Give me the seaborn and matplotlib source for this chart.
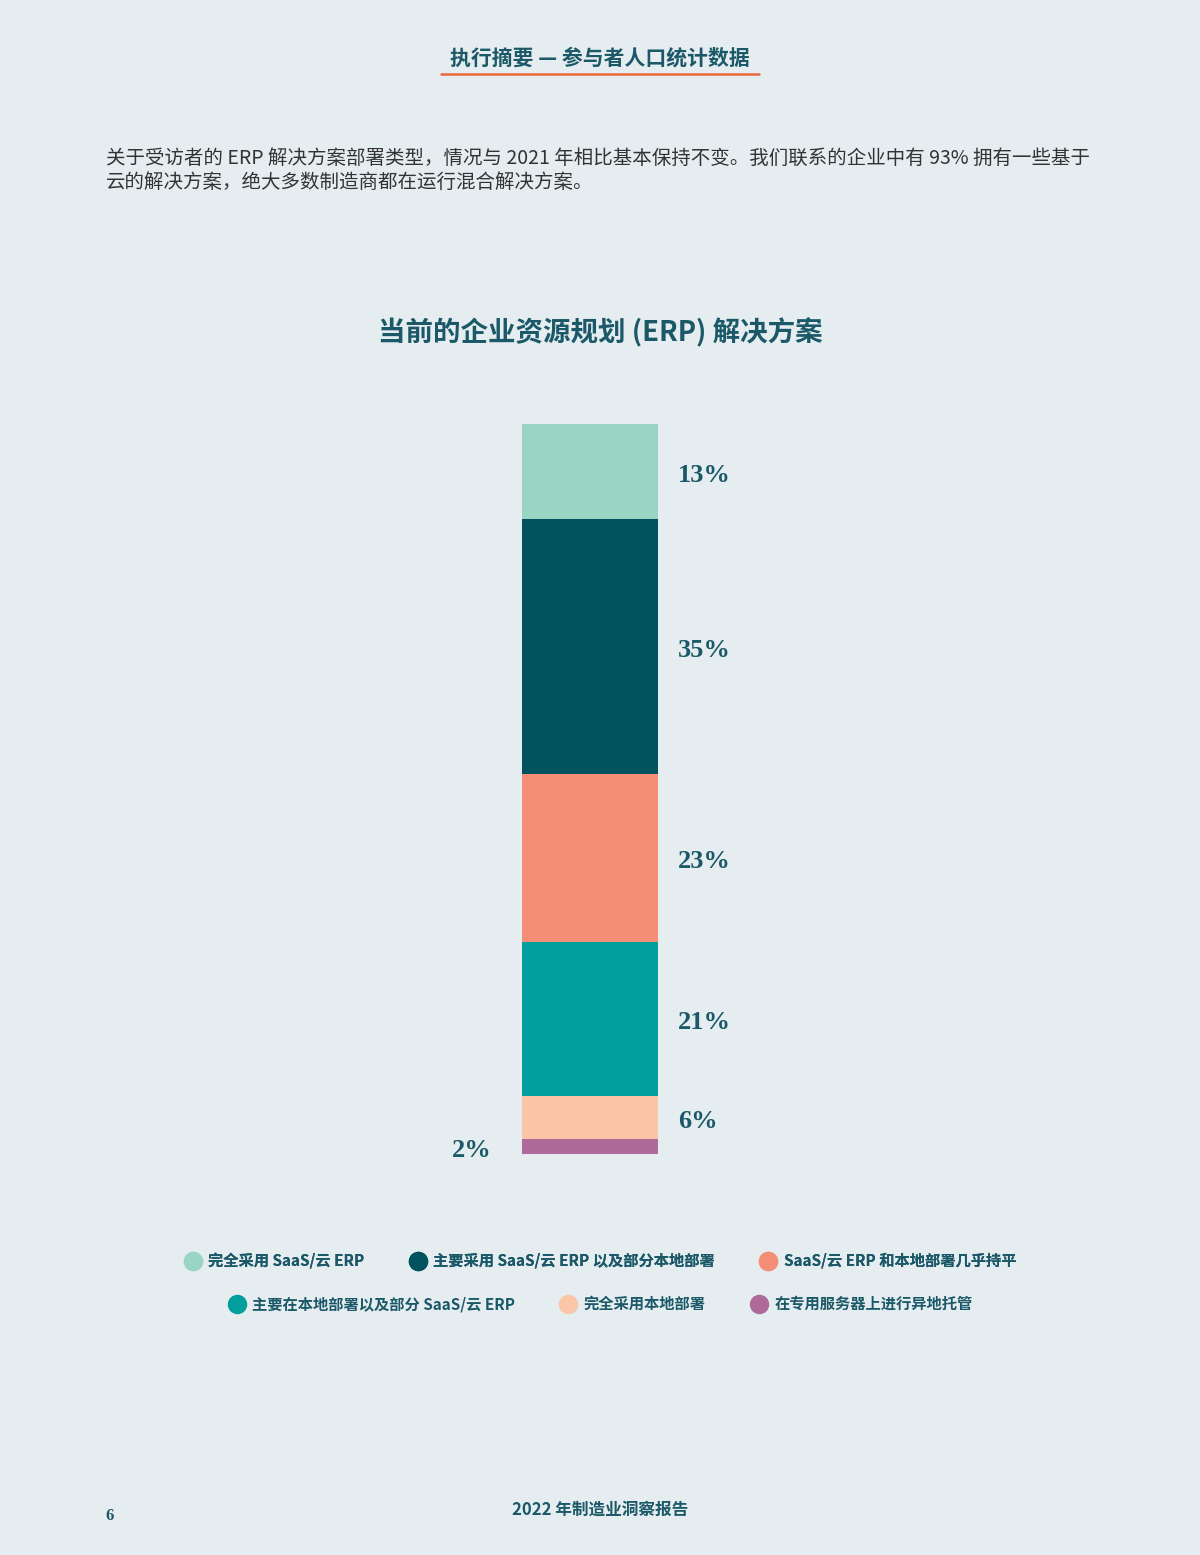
import matplotlib
matplotlib.use("Agg")
import matplotlib.pyplot as plt
from matplotlib.lines import Line2D
import seaborn as sns
import numpy as np

# ---- data ----
categories = ["完全采用 SaaS/云 ERP", "主要采用 SaaS/云 ERP 以及部分本地部署", "SaaS/云 ERP 和本地部署几乎持平",
              "主要在本地部署以及部分 SaaS/云 ERP", "完全采用本地部署", "在专用服务器上进行异地托管"]
values = [13, 35, 23, 21, 6, 2]
labels = ["13%", "35%", "23%", "21%", "6%", "2%"]
colors = ["#9ad5c4", "#00525f", "#f48e76", "#009e9c", "#fbc6a8", "#ad6a9a"]

title = "当前的企业资源规划 (ERP) 解决方案"
header = "执行摘要 — 参与者人口统计数据"
para1 = "关于受访者的 ERP 解决方案部署类型，情况与 2021 年相比基本保持不变。我们联系的企业中有 93% 拥有一些基于"
para2 = "云的解决方案，绝大多数制造商都在运行混合解决方案。"
footer = "2022 年制造业洞察报告"
page = "6"

BG = "#e5edf0"
TXT = "#1c5968"

sns.set_theme(style="white")
plt.rcParams['font.family'] = ['Noto Sans CJK SC', 'DejaVu Sans']

W, H = 1200, 1555
fig = plt.figure(figsize=(W / 100, H / 100), dpi=100, facecolor=BG)

def fx(x):
    return x / W

def fy(y):
    return 1 - y / H

# bar axes: bar spans px x 522-658, y 424-1154
ax = fig.add_axes([fx(522), fy(1154), (658 - 522) / W, (1154 - 424) / H])
ax.set_facecolor("none")

# stacked from bottom: reverse order
order = list(range(len(values)))[::-1]  # bottom first
cum = np.cumsum([values[i] for i in order])
bottoms = dict()
prev = 0
for i, c in zip(order, cum):
    bottoms[i] = prev
    prev = c
# draw tallest first (overlap trick)
for idx in range(len(order) - 1, -1, -1):
    i = order[idx]
    sns.barplot(x=[0], y=[cum[idx]], color=colors[i], saturation=1, width=1,
                linewidth=0, ax=ax)
ax.set_xlim(-0.5, 0.5)
ax.set_ylim(0, sum(values))
ax.axis("off")

for i, lab in enumerate(labels):
    mid = bottoms[i] + values[i] / 2 - 0.5
    if i == len(labels) - 1:
        ax.text(-0.5 - 30 / 136, mid, lab, ha="right", va="center", fontsize=19,
                family="Liberation Serif", fontweight="bold", color=TXT)
    else:
        ax.text(0.5 + 20 / 136, mid, lab, ha="left", va="center", fontsize=19,
                family="Liberation Serif", fontweight="bold", color=TXT)

# header
fig.text(fx(600), fy(58), header, ha="center", va="center", fontsize=15,
         fontweight="bold", color=TXT)
fig.add_artist(Line2D([fx(441), fx(759)], [fy(74), fy(74)], color="#e8673c", lw=1.8))

# paragraph
fig.text(fx(106), fy(158), para1, ha="left", va="center", fontsize=14, color="#333333")
fig.text(fx(106), fy(182), para2, ha="left", va="center", fontsize=14, color="#333333")

# title
fig.text(fx(600), fy(333), title, ha="center", va="center", fontsize=19.8,
         fontweight="bold", color=TXT)

# legends
def handles(idxs):
    return [Line2D([], [], marker="o", linestyle="none", markersize=13,
                   markerfacecolor=colors[i], markeredgecolor=colors[i]) for i in idxs]

leg_kw = dict(ncol=3, frameon=False, handletextpad=0.4, columnspacing=2.9,
              handlelength=1.2, prop={"size": 11, "weight": "bold"}, labelcolor=TXT)
l1 = fig.legend(handles([0, 1, 2]), categories[0:3], loc="center",
                bbox_to_anchor=(fx(600), fy(1261)), **leg_kw)
fig.add_artist(l1)
l2 = fig.legend(handles([3, 4, 5]), categories[3:6], loc="center",
                bbox_to_anchor=(fx(600), fy(1304)), **leg_kw)

# footer
fig.text(fx(600), fy(1510), footer, ha="center", va="center", fontsize=12,
         fontweight="bold", color=TXT)
fig.text(fx(105), fy(1516), page, ha="left", va="center", fontsize=12,
         family="Liberation Serif", fontweight="bold", color=TXT)

fig.savefig("out.png", dpi=100, facecolor=BG)
